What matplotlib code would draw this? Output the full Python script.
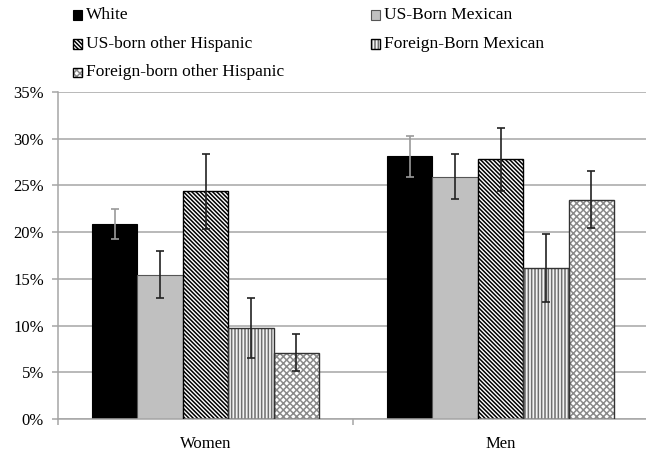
import matplotlib
matplotlib.use("Agg")
import matplotlib.pyplot as plt
from matplotlib.patches import Rectangle
import numpy as np

# ---- data -------------------------------------------------------------
groups = ["Women", "Men"]
series = ["White", "US-Born Mexican", "US-born other Hispanic",
          "Foreign-Born Mexican", "Foreign-born other Hispanic"]

women_pct = [20.9, 15.4, 24.4, 9.7, 7.1]
women_hi = [22.5, 18.0, 28.4, 13.0, 9.1]
women_lo = [19.3, 13.0, 20.3, 6.5, 5.1]

men_pct = [28.2, 25.9, 27.8, 16.2, 23.4]
men_hi = [30.3, 28.4, 31.1, 19.8, 26.5]
men_lo = [25.9, 23.5, 24.4, 12.5, 20.4]

y_ticks = [0, 5, 10, 15, 20, 25, 30, 35]

# ---- styles -----------------------------------------------------------
face = ["#000000", "#c0c0c0", "#ffffff", "#f2f2f2", "#ffffff"]
hatch = [None, None, "\\" * 8, "|||||", "xxxxx"]
hatch_col = [None, None, "#000000", "#6e6e6e", "#8a8a8a"]
edge = ["#000000", "#555555", "#000000", "#333333", "#333333"]
err_col = ["#9a9a9a", "#222222", "#222222", "#222222", "#222222"]
grid_col = "#a6a6a6"

plt.rcParams["font.family"] = ["Liberation Serif", "DejaVu Serif"]
plt.rcParams["hatch.linewidth"] = 1.1

W, H = 646, 455
fig = plt.figure(figsize=(W / 100, H / 100), dpi=100)
ax = fig.add_axes([58 / W, 36 / H, 590 / W, 327 / H])

vals = np.array([women_pct, men_pct])
his = np.array([women_hi, men_hi])
los = np.array([women_lo, men_lo])
centers = np.arange(len(groups)) + 0.5
bw = 0.154

for i, name in enumerate(series):
    x = centers + (i - 2) * bw
    v = vals[:, i]
    if hatch[i]:
        # hatch layer (colour taken from edgecolor), then outline on top
        ax.bar(x, v, bw, color=face[i], edgecolor=hatch_col[i], hatch=hatch[i],
               linewidth=0, zorder=2)
        ax.bar(x, v, bw, facecolor="none", edgecolor=edge[i], linewidth=1.0,
               zorder=3)
    else:
        ax.bar(x, v, bw, color=face[i], edgecolor=edge[i], linewidth=0.8,
               zorder=2)
    yerr = np.vstack([v - los[:, i], his[:, i] - v])
    ax.errorbar(x, v, yerr=yerr, fmt="none", ecolor=err_col[i],
                elinewidth=1.2, capsize=3.2, capthick=1.2, zorder=4)

# axes cosmetics
ax.set_xlim(0, len(groups))
ax.set_ylim(0, 35)
ax.set_yticks(y_ticks)
ax.set_yticklabels([f"{t}%" for t in y_ticks], fontsize=12)
ax.yaxis.grid(True, color=grid_col, linewidth=1.1, zorder=0)
ax.set_axisbelow(True)
ax.set_xticks(np.arange(len(groups) + 1))
ax.set_xticklabels([])
ax.set_xticks(centers, minor=True)
ax.set_xticklabels(groups, minor=True, fontsize=12)
ax.tick_params(axis="x", which="minor", length=0, pad=12)
ax.tick_params(axis="x", which="major", length=4, color=grid_col, width=1.1)
ax.tick_params(axis="y", length=4, color=grid_col, width=1.1, pad=6)
for s in ["top", "right"]:
    ax.spines[s].set_visible(False)
for s in ["left", "bottom"]:
    ax.spines[s].set_color(grid_col)
    ax.spines[s].set_linewidth(1.1)

# ---- legend (two columns) ---------------------------------------------
col_x = [73, 371]
row_y = [15, 44, 72]
box = 9
for i, name in enumerate(series):
    r, c = divmod(i, 2)
    x0 = col_x[c]
    yc = row_y[r]
    rect = Rectangle((x0 / W, 1 - (yc + box / 2) / H), box / W, box / H,
                     transform=fig.transFigure, facecolor=face[i],
                     edgecolor=hatch_col[i] if hatch[i] else edge[i],
                     hatch=hatch[i], linewidth=0 if hatch[i] else 0.8)
    fig.add_artist(rect)
    if hatch[i]:
        fig.add_artist(Rectangle((x0 / W, 1 - (yc + box / 2) / H), box / W,
                                 box / H, transform=fig.transFigure,
                                 facecolor="none", edgecolor="#000000",
                                 linewidth=1.0))
    fig.text((x0 + 13) / W, 1 - yc / H, name, fontsize=12.5,
             va="center", ha="left")

fig.savefig("out.png", dpi=100)
